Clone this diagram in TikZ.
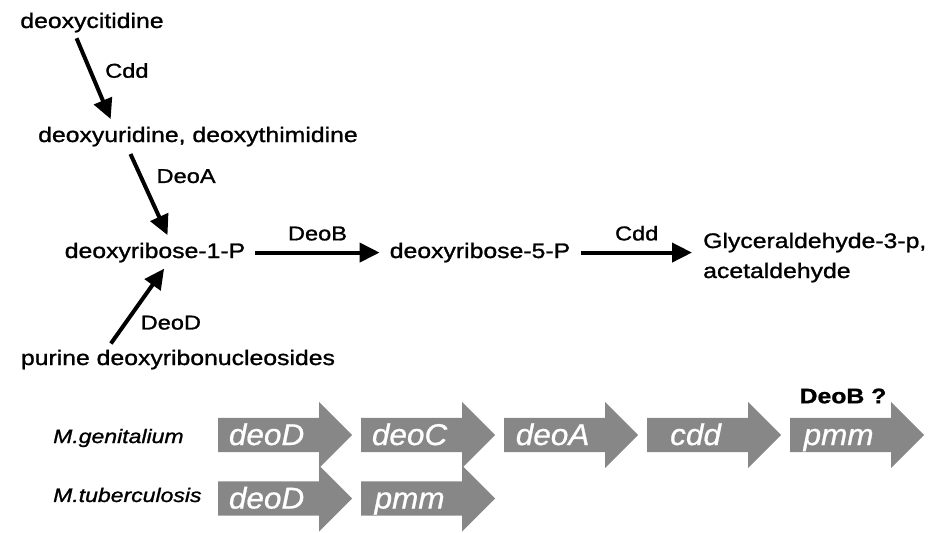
\documentclass[tikz,border=0pt]{standalone}
\usepackage{fontspec}
\setmainfont{Liberation Sans}[FakeStretch=1.18, FakeBold=1.2]
\newfontfamily\genefont{Liberation Sans}[FakeStretch=1.05, FakeBold=0.8]
\usetikzlibrary{positioning,arrows.meta,shapes.arrows}

\begin{document}
\begin{tikzpicture}[
  x=1pt, y=-1pt,
  met/.style={inner sep=2pt, anchor=base, font=\fontsize{21}{30}\selectfont},
  enz/.style={inner sep=2pt, font=\fontsize{20}{24}\selectfont},
  rxn/.style={-{Triangle[length=20pt,width=19pt]}, line width=4pt},
  org/.style={anchor=west, inner sep=0pt, font=\fontsize{19.5}{24}\selectfont\itshape},
  gene/.style={single arrow, single arrow head extend=16pt, fill=black!47,
    minimum height=134pt, inner xsep=0pt, inner ysep=0pt,
    text height=27pt, text depth=7pt, text=white,
    font=\genefont\fontsize{30}{30}\selectfont\itshape,
    execute at begin node={\hspace*{-20pt}}}
]
\useasboundingbox (0,0) rectangle (933,532);
% ---------- pathway ----------
\node[met] (cyt) at (92,28) {deoxycitidine};
\node[met] (urd) at (198,142) {deoxyuridine, deoxythimidine};
\node[met] (d1p) at (155,258) {deoxyribose-1-P};
\node[met] (d5p) at (480,258) {deoxyribose-5-P};
\node[met, anchor=base west, align=left] (gap) at (701,278) {Glyceraldehyde-3-p,\\acetaldehyde};
\node[met] (pur) at (178,365) {purine deoxyribonucleosides};
\draw[rxn, shorten <=4pt, shorten >=6pt] ([xshift=-17pt]cyt.south) --
  node[enz, pos=0.4, right=11pt] {Cdd} ([xshift=-85pt]urd.north);
\draw[rxn, shorten <=6pt, shorten >=6pt] ([xshift=-70pt]urd.south) --
  node[enz, pos=0.3, right=12pt] {DeoA} ([xshift=15pt]d1p.north);
\draw[rxn, shorten <=5pt, shorten >=5pt] ([xshift=-70pt]pur.north) --
  node[enz, pos=0.3, right=11pt] {DeoD} ([xshift=12pt]d1p.south);
\draw[rxn, shorten <=8pt, shorten >=8pt] (d1p.east) --
  node[enz, midway, above=8pt] {DeoB} (d5p.west);
\draw[rxn, shorten <=9pt, shorten >=9pt] (d5p.east) --
  node[enz, midway, above=8pt] {Cdd} (d5p.east -| gap.west);
% ---------- gene order ----------
\node[org] (mglab) at (53,438) {M.genitalium};
\node[gene, anchor=tail] (mgD) at (218,435) {deoD};
\node[gene, right=8.5pt of mgD] (mgC) {deoC};
\node[gene, right=8.5pt of mgC] (mgA) {deoA};
\node[gene, right=8.5pt of mgA] (mgcdd) {cdd};
\node[gene, right=8.5pt of mgcdd] (mgpmm) {pmm};
\node[enz, font=\fontsize{21}{24}\selectfont\bfseries] (deobq) at (843,396) {DeoB ?};
\node[org] (mtlab) at (53,495) {M.tuberculosis};
\node[gene, anchor=tail] (mtD) at (218,498.5) {deoD};
\node[gene, right=8.5pt of mtD] (mtpmm) {pmm};
\end{tikzpicture}
\end{document}
